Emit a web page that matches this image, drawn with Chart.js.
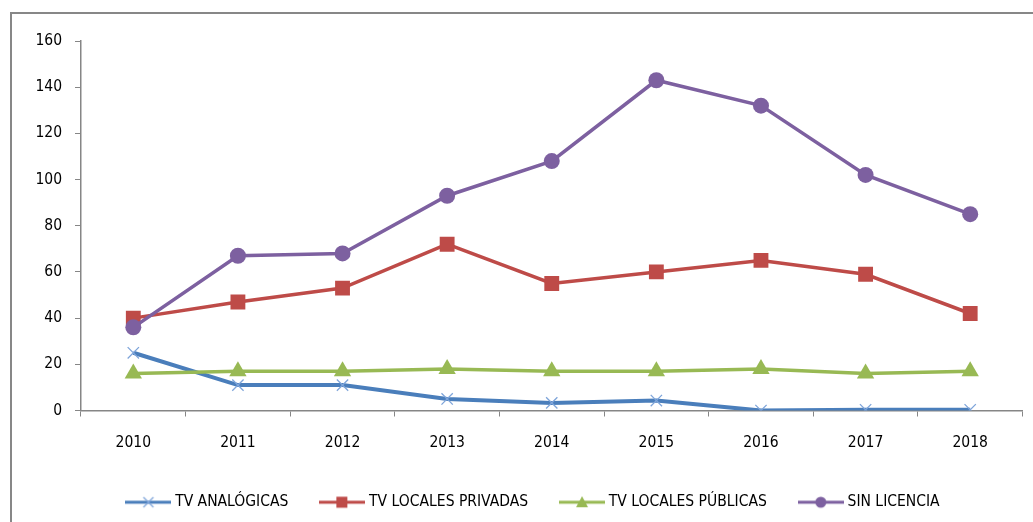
<!DOCTYPE html>
<html>
<head>
<meta charset="utf-8">
<script src="https://cdn.jsdelivr.net/npm/chart.js@4.4.0/dist/chart.umd.min.js"></script>
<style>
  body { margin: 0; background: #fff; }
  #frame {
    position: absolute; left: 10px; top: 12px;
    border-left: 2px solid #878787; border-top: 2px solid #878787;
  }
  canvas { display: block; }
</style>
</head>
<body>
<div id="frame"><canvas id="chart" width="1021" height="508"></canvas></div>
<script>
// data
const years = ['2010', '2011', '2012', '2013', '2014', '2015', '2016', '2017', '2018'];
const tvAnalogicas = [25, 11, 11, 5, 3.3, 4.3, 0, 0.3, 0.3];
const tvLocalesPrivadas = [40, 47, 53, 72, 55, 60, 65, 59, 42];
const tvLocalesPublicas = [16, 17, 17, 18, 17, 17, 18, 16, 17];
const sinLicencia = [36, 67, 68, 93, 108, 143, 132, 102, 85];
const yTicks = [0, 20, 40, 60, 80, 100, 120, 140, 160];

const FONT = "'Liberation Sans Narrow', 'DejaVu Sans Condensed', 'Liberation Sans', sans-serif";

/**
 * Small canvas used as legend symbol: line with marker in the middle
 */
function legendIcon(color, markerColor, kind) {
  const c = document.createElement('canvas');
  c.width = 46; c.height = 20;
  const g = c.getContext('2d');
  g.strokeStyle = color;
  g.lineWidth = 3;
  g.beginPath(); g.moveTo(0, 10); g.lineTo(46, 10); g.stroke();
  g.fillStyle = markerColor;
  g.strokeStyle = markerColor;
  if (kind === 'cross') {
    g.lineWidth = 1.3;
    g.beginPath();
    g.moveTo(18, 5); g.lineTo(28, 15);
    g.moveTo(28, 5); g.lineTo(18, 15);
    g.stroke();
  } else if (kind === 'rect') {
    g.fillRect(17, 4.5, 11, 11);
  } else if (kind === 'triangle') {
    g.beginPath(); g.moveTo(23, 4); g.lineTo(29, 15); g.lineTo(17, 15); g.closePath(); g.fill();
  } else {
    g.beginPath(); g.arc(23, 10, 5.5, 0, Math.PI * 2); g.fill();
  }
  return c;
}

const icons = [
  legendIcon('#4A7EBB', '#7FA5DA', 'cross'),
  legendIcon('#BE4B48', '#BE4B48', 'rect'),
  legendIcon('#98B954', '#98B954', 'triangle'),
  legendIcon('#7D60A0', '#7D60A0', 'circle')
];

// legend in the reference sits a bit right of centre
const shiftLegend = {
  id: 'shiftLegend',
  afterLayout(chart) {
    chart.legend.left += 17;
    chart.legend.right += 17;
  }
};

const ctx = document.getElementById('chart').getContext('2d');

new Chart(ctx, {
  type: 'line',
  data: {
    labels: years,
    datasets: [
      {
        label: 'TV ANALÓGICAS',
        data: tvAnalogicas,
        borderColor: '#4A7EBB',
        borderWidth: 4,
        pointStyle: 'crossRot',
        pointRadius: 8,
        pointBorderColor: '#7FA5DA',
        pointBorderWidth: 1.3,
        order: 4
      },
      {
        label: 'TV LOCALES PRIVADAS',
        data: tvLocalesPrivadas,
        borderColor: '#BE4B48',
        borderWidth: 3.5,
        pointStyle: 'rect',
        pointRadius: 10.5,
        pointBackgroundColor: '#BE4B48',
        pointBorderColor: '#BE4B48',
        pointBorderWidth: 0,
        order: 3
      },
      {
        label: 'TV LOCALES PÚBLICAS',
        data: tvLocalesPublicas,
        borderColor: '#98B954',
        borderWidth: 3.5,
        pointStyle: 'triangle',
        pointRadius: 10,
        pointBackgroundColor: '#98B954',
        pointBorderColor: '#98B954',
        pointBorderWidth: 0,
        order: 2
      },
      {
        label: 'SIN LICENCIA',
        data: sinLicencia,
        borderColor: '#7D60A0',
        borderWidth: 3.5,
        pointStyle: 'circle',
        pointRadius: 8,
        pointBackgroundColor: '#7D60A0',
        pointBorderColor: '#7D60A0',
        pointBorderWidth: 0,
        order: 1
      }
    ]
  },
  options: {
    responsive: false,
    animation: false,
    devicePixelRatio: 1,
    layout: { padding: { top: 27, right: 10, bottom: 2, left: 0 } },
    plugins: {
      tooltip: { enabled: false },
      legend: {
        position: 'bottom',
        labels: {
          usePointStyle: true,
          pointStyleWidth: 38,
          boxHeight: 17,
          padding: 35,
          color: '#000',
          font: { family: FONT, size: 15.5 },
          generateLabels(chart) {
            const items = Chart.defaults.plugins.legend.labels.generateLabels(chart);
            items.sort((a, b) => a.datasetIndex - b.datasetIndex);
            items.forEach(it => { it.pointStyle = icons[it.datasetIndex]; });
            return items;
          }
        }
      }
    },
    scales: {
      x: {
        offset: true,
        afterFit(scale) { scale.height = 49; },
        grid: {
          offset: true,
          drawOnChartArea: false,
          drawTicks: true,
          tickLength: 6,
          color: '#868686'
        },
        border: { color: '#868686', width: 1.5 },
        ticks: {
          padding: 17,
          color: '#000',
          font: { family: FONT, size: 15.5 }
        }
      },
      y: {
        min: 0,
        max: 160,
        afterFit(scale) { scale.width = 69; },
        afterBuildTicks(scale) { scale.ticks = yTicks.map(v => ({ value: v })); },
        grid: {
          drawOnChartArea: false,
          drawTicks: true,
          tickLength: 6,
          color: '#868686'
        },
        border: { color: '#868686', width: 1.5 },
        ticks: {
          padding: 13,
          color: '#000',
          font: { family: FONT, size: 15.5 }
        }
      }
    }
  },
  plugins: [shiftLegend]
});
</script>
</body>
</html>
